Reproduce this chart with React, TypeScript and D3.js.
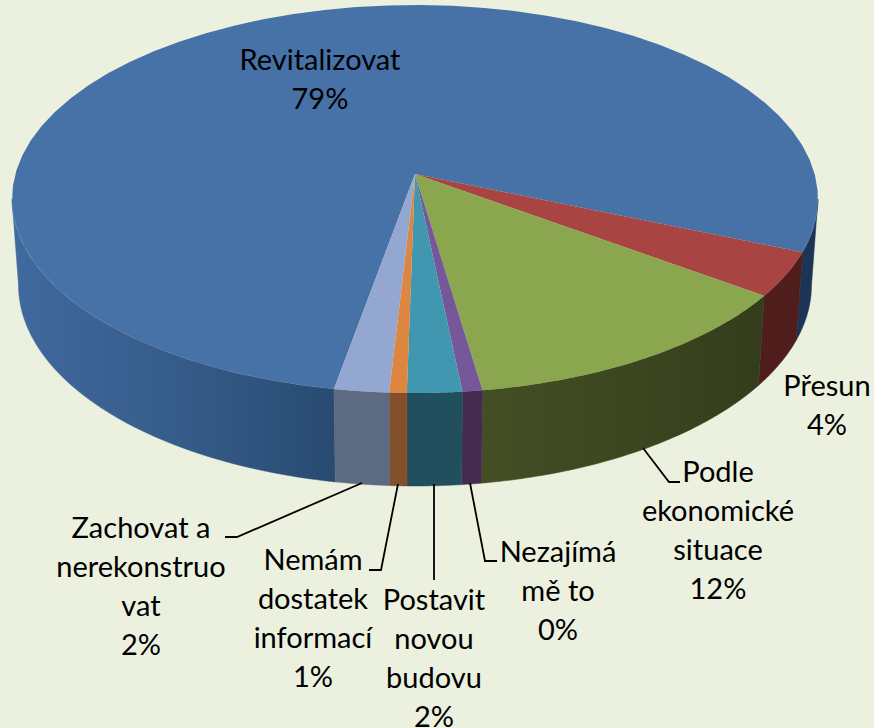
import React from "react";
import * as d3 from "d3";

const sliceNames = ["Revitalizovat", "Přesun", "Podle ekonomické situace", "Nezajímá mě to", "Postavit novou budovu", "Nemám dostatek informací", "Zachovat a nerekonstruovat"];
const sliceShares = [76.2, 3.9, 14, 0.8, 2.2, 0.7, 2.2];
const topColors = ["#4672a8", "#a84442", "#8aa64e", "#76589a", "#4197b0", "#dd8640", "#94a7d0"];
const wallColors = ["#2f5178", "#4f1e1c", "url(#wallG)", "#432c50", "#224f5e", "#82502a", "#5c6a82"];
const labelLines = [
  ["Revitalizovat", "79%"],
  ["Přesun", "4%"],
  ["Podle", "ekonomické", "situace", "12%"],
  ["Nezajímá", "mě to", "0%"],
  ["Postavit", "novou", "budovu", "2%"],
  ["Nemám", "dostatek", "informací", "1%"],
  ["Zachovat a", "nerekonstruo", "vat", "2%"],
];
const labelCenters: [number, number][] = [[320, 70], [827, 396], [718, 482], [558, 562], [434, 610], [313, 570], [141, 538]];
const leaderPaths: [number, number][][] = [
  [[643, 448], [669, 482], [680, 482]],
  [[470, 483], [485, 561], [497, 561]],
  [[434, 484], [434, 580]],
  [[398, 484], [381, 570], [369, 570]],
  [[362, 483], [237, 537], [225, 537]],
];
const START_DEG = 191.6;
const top = { cx: 415, cy: 199, rx: 403, ry: 194 };
const bot = { cx: 415, cy: 285, rx: 396.5, ry: 201 };
const apex: [number, number] = [415, 174];

const pt = (e: typeof top, t: number): [number, number] => [e.cx + e.rx * Math.sin(t), e.cy - e.ry * Math.cos(t)];
const rim = (e: typeof top, a: number, b: number) => d3.range(0, 61).map((i) => pt(e, a + ((b - a) * i) / 60));
const line = d3.line();

export default function App() {
  const s = (START_DEG * Math.PI) / 180;
  const arcs = d3.pie<number>().sort(null).startAngle(s).endAngle(s + 2 * Math.PI)(sliceShares);
  const R = Math.PI / 2;
  const wallPath = (a: number, b: number) => line([...rim(top, a, b), ...rim(bot, a, b).reverse()])! + "Z";
  // The slices after the first wrap past a full turn; bring them back to the front of the pie.
  const walls = arcs.slice(1).map((a, i) => ({
    a: a.startAngle - 2 * Math.PI,
    b: a.endAngle - 2 * Math.PI,
    fill: wallColors[i + 1],
  }));
  return (
    <svg width={874} height={728} style={{ position: "fixed", left: 0, top: 0, fontFamily: "Lato, Carlito, sans-serif" }}>
      <defs>
        <linearGradient id="wallL" gradientUnits="userSpaceOnUse" x1={12} x2={340} y1={0} y2={0}>
          <stop offset="0" stopColor="#40699e" />
          <stop offset="0.5" stopColor="#365c8a" />
          <stop offset="1" stopColor="#284a70" />
        </linearGradient>
        <linearGradient id="wallG" gradientUnits="userSpaceOnUse" x1={480} x2={765} y1={0} y2={0}>
          <stop offset="0" stopColor="#454f25" />
          <stop offset="1" stopColor="#333d1b" />
        </linearGradient>
      </defs>
      <rect width={874} height={728} fill="#ebf1de" />
      <path d={wallPath(R, walls[0].a)} fill="#1c3557" stroke="#1c3557" strokeWidth={0.5} />
      <path d={wallPath(arcs[0].startAngle, 3 * R)} fill="url(#wallL)" stroke="url(#wallL)" strokeWidth={0.5} />
      {walls.map((w, i) => <path key={i} d={wallPath(w.a, w.b)} fill={w.fill} stroke={w.fill} strokeWidth={0.5} />)}
      {arcs.map((a, i) => (
        <path key={i} d={line([apex, ...rim(top, a.startAngle, a.endAngle)])! + "Z"} fill={topColors[i]} />
      ))}
      {leaderPaths.map((p, i) => <path key={i} d={line(p)!} fill="none" stroke="#000" strokeWidth={1.8} />)}
      {sliceNames.map((n, i) => (
        <text key={n} textAnchor="middle" fontSize={29} fill="#000">
          {labelLines[i].map((l, j) => (
            <tspan key={j} x={labelCenters[i][0]} y={labelCenters[i][1] + j * 39}>{l}</tspan>
          ))}
        </text>
      ))}
    </svg>
  );
}
